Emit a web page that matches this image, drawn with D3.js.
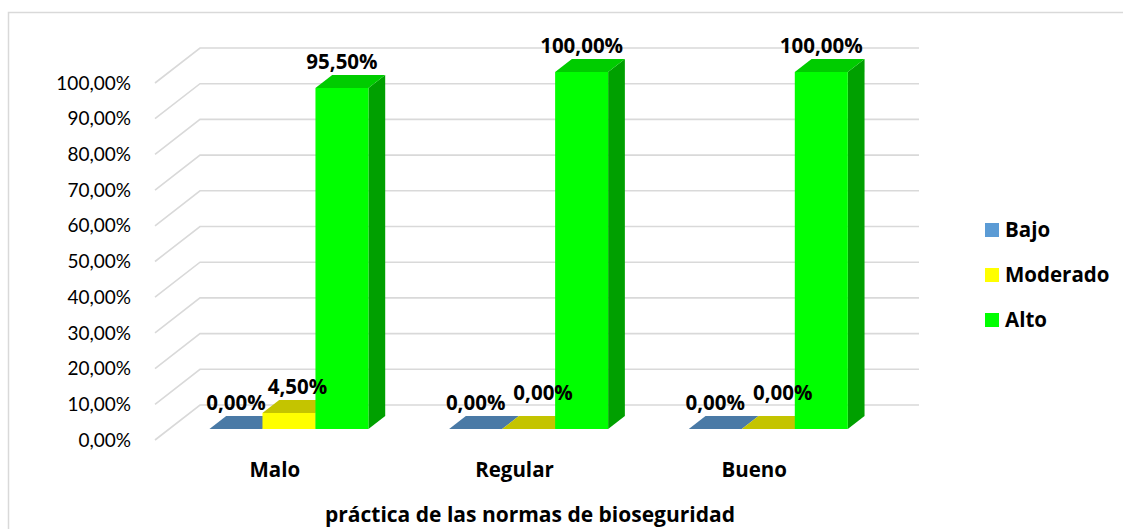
<!DOCTYPE html>
<html>
<head>
<meta charset="utf-8">
<script src="https://cdn.jsdelivr.net/npm/d3@7"></script>
<style>
  html, body { margin: 0; padding: 0; background: #fff; }
  svg { display: block; font-family: Lato, "Open Sans", sans-serif; }
  .bold { font-family: "Open Sans", Lato, sans-serif; font-weight: bold; }
</style>
</head>
<body>
<svg id="chart" width="1123" height="529"></svg>
<script>
// Categories, series and values (percent)
const categories = ["Malo", "Regular", "Bueno"];
const seriesNames = ["Bajo", "Moderado", "Alto"];
const bajo = [0, 0, 0];
const moderado = [4.5, 0, 0];
const alto = [95.5, 100, 100];
const yTicks = [0, 10, 20, 30, 40, 50, 60, 70, 80, 90, 100];
const axisTitle = "práctica de las normas de bioseguridad";

const seriesValues = [bajo, moderado, alto];
const faceColors = [
  { front: "#5b9bd5", top: "#4a7aa6", side: "#3f6d98", legend: "#5b9bd5" },
  { front: "#ffff00", top: "#c4c400", side: "#b0b000", legend: "#ffff00" },
  { front: "#00ff00", top: "#00cc00", side: "#00a000", legend: "#00ff00" }
];

const es = d3.formatLocale({ decimal: ",", thousands: ".", grouping: [3], currency: ["", "€"] });
const pct = v => es.format(".2f")(v) + "%";

const svg = d3.select("#chart");

// Chart frame
svg.append("rect")
  .attr("x", 8.5).attr("y", 12.5)
  .attr("width", 1140).attr("height", 540)
  .attr("fill", "#fff").attr("stroke", "#d9d9d9").attr("stroke-width", 1.5);

// Oblique 3D projection: back wall in screen space, depth z in [0,1] shifts left/down
const depthDX = -45, depthDY = 35;
const wallLeft = 200, wallRight = 919;
const y = d3.scaleLinear().domain([0, 100]).range([405, 48]);
const x = d3.scaleBand().domain(categories).range([wallLeft, wallRight]).paddingInner(0).paddingOuter(0);
const proj = (px, v, z) => [px + depthDX * z, y(v) + depthDY * z];

const barW = 53;
const groupPad = (x.bandwidth() - barW * seriesNames.length) / 2;
const zFront = 0.686, zBack = 0.314;

// Gridlines: left side wall (slanted) and back wall (horizontal)
const grid = svg.append("g").attr("stroke", "#d9d9d9").attr("stroke-width", 1.6).attr("fill", "none");
yTicks.forEach(t => {
  const a = proj(wallLeft, t, 1), b = proj(wallLeft, t, 0), c = proj(wallRight, t, 0);
  grid.append("path").attr("d", `M${a[0]},${a[1]}L${b[0]},${b[1]}L${c[0]},${c[1]}`);
});

// Value axis labels at the front edge of the side wall
svg.append("g").selectAll("text").data(yTicks).join("text")
  .attr("x", proj(wallLeft, 0, 1)[0] - 24)
  .attr("y", d => proj(wallLeft, d, 1)[1])
  .attr("dy", "0.35em")
  .attr("text-anchor", "end")
  .attr("font-size", 19)
  .attr("fill", "#000")
  .text(d => pct(d));

// Bars
const bars = svg.append("g");
const labelData = [];
categories.forEach((cat, ci) => {
  seriesNames.forEach((s, si) => {
    const v = seriesValues[si][ci];
    const x0 = x(cat) + groupPad + si * barW, x1 = x0 + barW;
    const col = faceColors[si];
    const pts = {
      fbl: proj(x0, 0, zFront), fbr: proj(x1, 0, zFront),
      ftl: proj(x0, v, zFront), ftr: proj(x1, v, zFront),
      bbr: proj(x1, 0, zBack), btl: proj(x0, v, zBack), btr: proj(x1, v, zBack)
    };
    const poly = arr => "M" + arr.map(p => p.join(",")).join("L") + "Z";
    const g = bars.append("g");
    if (v > 0) {
      g.append("path").attr("d", poly([pts.fbr, pts.bbr, pts.btr, pts.ftr])).attr("fill", col.side);
      g.append("path").attr("d", poly([pts.fbl, pts.fbr, pts.ftr, pts.ftl])).attr("fill", col.front);
    }
    g.append("path").attr("d", poly([pts.ftl, pts.ftr, pts.btr, pts.btl])).attr("fill", col.top);
    labelData.push({ ci, si, v, cx: (x0 + x1) / 2 + depthDX * zFront, top: y(v) + depthDY * zFront });
  });
});

// Data labels above each bar; a label that collides with its left neighbour is nudged aside
const labels = svg.append("g").selectAll("text").data(labelData).join("text")
  .attr("class", "bold")
  .attr("x", d => d.cx)
  .attr("y", d => d.top - 26)
  .attr("dy", "0.35em")
  .attr("text-anchor", "middle")
  .attr("font-size", 20.5)
  .attr("fill", "#000")
  .text(d => pct(d.v));

const nodes = labels.nodes();
nodes.forEach((n, i) => {
  const d = labelData[i];
  if (d.si === 0) return;
  const prev = nodes[i - 1], pb = prev.getBBox(), b = n.getBBox();
  const overlapX = pb.x + pb.width - b.x;
  const overlapY = Math.min(pb.y + pb.height, b.y + b.height) - Math.max(pb.y, b.y);
  if (overlapX > 0 && overlapY > 0 && labelData[i - 1].ci === d.ci) {
    d3.select(n).attr("x", d.cx + overlapX + 2 + (d.v === 0 ? 6 : 0));
    if (d.v === 0) d3.select(n).attr("y", d.top - 26 - 10);
  }
});

// Category labels along the front edge of the floor
svg.append("g").selectAll("text").data(categories).join("text")
  .attr("class", "bold")
  .attr("x", d => x(d) + x.bandwidth() / 2 + depthDX)
  .attr("y", 470)
  .attr("dy", "0.35em")
  .attr("text-anchor", "middle")
  .attr("font-size", 20.5)
  .text(d => d);

// Axis title
svg.append("text")
  .attr("class", "bold")
  .attr("x", 530).attr("y", 522)
  .attr("text-anchor", "middle")
  .attr("font-size", 21)
  .text(axisTitle);

// Legend
const legend = svg.append("g").selectAll("g").data(seriesNames).join("g")
  .attr("transform", (d, i) => `translate(985,${223 + i * 45})`);
legend.append("rect").attr("width", 14).attr("height", 14).attr("fill", (d, i) => faceColors[i].legend);
legend.append("text").attr("class", "bold").attr("x", 20).attr("y", 7).attr("dy", "0.35em")
  .attr("font-size", 20.5).text(d => d);
</script>
</body>
</html>
